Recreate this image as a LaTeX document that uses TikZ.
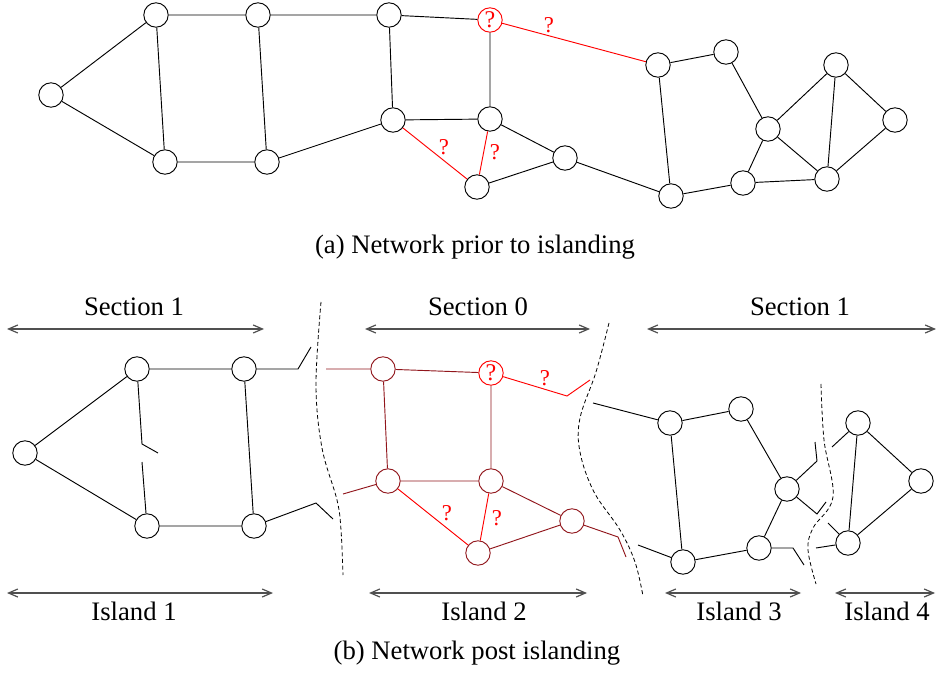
\documentclass[tikz,border=0pt]{standalone}
\usepackage{fontspec}
\setmainfont{Liberation Serif}
\usetikzlibrary{arrows.meta}
\definecolor{isl}{RGB}{145,22,28}
\definecolor{arr}{RGB}{80,80,80}
\begin{document}
\begin{tikzpicture}[x=0.75pt,y=-0.75pt,
 nd/.style={circle,draw,minimum size=18.3pt,inner sep=0pt,line width=0.7pt},
 ln/.style={line width=0.7pt},
 rq/.style={text=red,font=\fontsize{17}{17}\selectfont,inner sep=0pt},
 lbl/.style={font=\fontsize{20}{24}\selectfont,anchor=base,inner sep=0pt},
 span/.style={draw=arr,line width=0.9pt,{Straight Barb[length=7pt,width=6pt]}-{Straight Barb[length=7pt,width=6pt]}},
 sepline/.style={dash pattern=on 3pt off 2pt,line width=0.6pt}]
\useasboundingbox (0,0) rectangle (936,677);

% ---------- (a) top network ----------
\node[nd] (A1) at (51,95) {};
\node[nd] (A2) at (156,15) {};
\node[nd] (A3) at (165,162) {};
\node[nd] (A4) at (258,15) {};
\node[nd] (A5) at (267,162) {};
\node[nd] (A6) at (389,15) {};
\node[nd] (A7) at (393,120) {};
\node[nd,draw=red,text=red,font=\fontsize{18}{18}\selectfont] (Q) at (490,20) {?};
\node[nd] (B1) at (490,119) {};
\node[nd] (B2) at (477,187) {};
\node[nd] (B3) at (565,158) {};
\node[nd] (C1) at (658,65) {};
\node[nd] (C2) at (726,52) {};
\node[nd] (C3) at (671,196) {};
\node[nd] (C4) at (768,129) {};
\node[nd] (C5) at (743,183) {};
\node[nd] (C6) at (836,65) {};
\node[nd] (C7) at (895,120) {};
\node[nd] (C8) at (827,179) {};

\draw[ln] (A1)--(A2) (A1)--(A3) (A2)--(A4) (A2)--(A3) (A4)--(A6) (A4)--(A5)
 (A3)--(A5) (A5)--(A7) (A6)--(Q) (A6)--(A7) (A7)--(B1) (Q)--(B1) (B1)--(B3)
 (B2)--(B3) (C1)--(C2) (C1)--(C3) (B3)--(C3) (C2)--(C4) (C3)--(C5) (C5)--(C4)
 (C4)--(C6) (C4)--(C8) (C5)--(C8) (C6)--(C8) (C6)--(C7) (C7)--(C8);
\draw[ln,red] (A7)--(B2) (B1)--(B2) (Q)--(C1);
\node[rq] (qa1) at (444,147) {?};
\node[rq] (qa2) at (495,152) {?};
\node[rq] (qa3) at (549,25) {?};

\node[lbl] (capa) at (475,254) {(a) Network prior to islanding};

% ---------- (b) bottom network ----------
\node[lbl] (s1) at (134,316) {Section 1};
\node[lbl] (s0) at (478,316) {Section 0};
\node[lbl] (s2) at (800,316) {Section 1};
\coordinate (s1l) at (7,329); \coordinate (s1r) at (264,329);
\coordinate (s0l) at (365,329); \coordinate (s0r) at (590,329);
\coordinate (s2l) at (647,329); \coordinate (s2r) at (936,329);
\draw[span] (s1l)--(s1r);
\draw[span] (s0l)--(s0r);
\draw[span] (s2l)--(s2r);

\coordinate (i1l) at (7,593); \coordinate (i1r) at (273,593);
\coordinate (i2l) at (369,593); \coordinate (i2r) at (587,593);
\coordinate (i3l) at (665,593); \coordinate (i3r) at (801,593);
\coordinate (i4l) at (835,593); \coordinate (i4r) at (935,593);
\draw[span] (i1l)--(i1r);
\draw[span] (i2l)--(i2r);
\draw[span] (i3l)--(i3r);
\draw[span] (i4l)--(i4r);
\node[lbl] (il1) at (134,620) {Island 1};
\node[lbl] (il2) at (484,620) {Island 2};
\node[lbl] (il3) at (739,620) {Island 3};
\node[lbl] (il4) at (887,620) {Island 4};

\node[lbl] (capb) at (477,659) {(b) Network post islanding};

% separators
\draw[sepline] plot[smooth,tension=0.6] coordinates {(321,302) (316,385) (322,448) (337,500) (341,530) (343,575)};
\draw[sepline] plot[smooth,tension=0.6] coordinates {(609,323) (596,372) (580,418) (580,452) (594,492) (620,530) (635,562) (643,596)};
\draw[sepline] plot[smooth,tension=0.6] coordinates {(821,384) (824,440) (833,497) (813,528) (808,550) (816,584)};

% island 1
\node[nd] (D1) at (25,453) {};
\node[nd] (D2) at (137,369) {};
\node[nd] (D3) at (244,369) {};
\node[nd] (D4) at (147,526) {};
\node[nd] (D5) at (254,526) {};
\draw[ln] (D1)--(D2) (D1)--(D4) (D2)--(D3) (D4)--(D5) (D3)--(D5);
\coordinate (d2a) at (142,444); \coordinate (d2b) at (158,453);
\coordinate (d4a) at (142,462);
\draw[ln] (D2)--(d2a)--(d2b);
\draw[ln] (d4a)--(D4);
\coordinate (d3a) at (298,369); \coordinate (d3b) at (311,347);
\draw[ln] (D3)--(d3a)--(d3b);
\coordinate (d5a) at (316,503); \coordinate (d5b) at (333,519);
\draw[ln] (D5)--(d5a)--(d5b);

% island 2
\node[nd,draw=isl] (E1) at (383,369) {};
\node[nd,draw=red,text=red,font=\fontsize{18}{18}\selectfont] (Q2) at (491,373) {?};
\node[nd,draw=isl] (E2) at (388,481) {};
\node[nd,draw=isl] (E3) at (491,481) {};
\node[nd,draw=isl] (E4) at (478,553) {};
\node[nd,draw=isl] (E5) at (572,521) {};
\coordinate (e1s) at (326,369);
\coordinate (e2s) at (343,494);
\draw[ln,isl] (e1s)--(E1) (e2s)--(E2) (E1)--(Q2) (Q2)--(E3) (E1)--(E2) (E2)--(E3)
 (E3)--(E5) (E4)--(E5);
\draw[ln,red] (E2)--(E4) (E3)--(E4);
\coordinate (q2a) at (567,396); \coordinate (q2b) at (590,380);
\draw[ln,red] (Q2)--(q2a)--(q2b);
\coordinate (e5a) at (618,537); \coordinate (e5b) at (626,557);
\draw[ln,isl] (E5)--(e5a)--(e5b);
\node[rq] (qb1) at (545,378) {?};
\node[rq] (qb2) at (447,513) {?};
\node[rq] (qb3) at (497,518) {?};

% island 3
\node[nd] (F1) at (670,423) {};
\node[nd] (F2) at (741,409) {};
\node[nd] (F3) at (787,489) {};
\node[nd] (F4) at (683,562) {};
\node[nd] (F5) at (759,548) {};
\coordinate (f1s) at (593,403);
\coordinate (f4s) at (638,545);
\draw[ln] (f1s)--(F1) (f4s)--(F4) (F1)--(F2) (F1)--(F4) (F2)--(F3) (F3)--(F5) (F4)--(F5);
\coordinate (f3a) at (817,461); \coordinate (f3b) at (815,442);
\draw[ln] (F3)--(f3a)--(f3b);
\coordinate (f3c) at (817,514); \coordinate (f3d) at (826,502);
\draw[ln] (F3)--(f3c)--(f3d);
\coordinate (f5a) at (793,548); \coordinate (f5b) at (804,565);
\draw[ln] (F5)--(f5a)--(f5b);

% island 4
\node[nd] (G1) at (858,423) {};
\node[nd] (G2) at (921,481) {};
\node[nd] (G3) at (848,543) {};
\coordinate (g1s) at (832,447);
\coordinate (g3s) at (828,523);
\coordinate (g3t) at (816,548);
\draw[ln] (G1)--(G2) (G1)--(G3) (G2)--(G3) (g1s)--(G1) (g3s)--(G3) (g3t)--(G3);
\end{tikzpicture}
\end{document}
